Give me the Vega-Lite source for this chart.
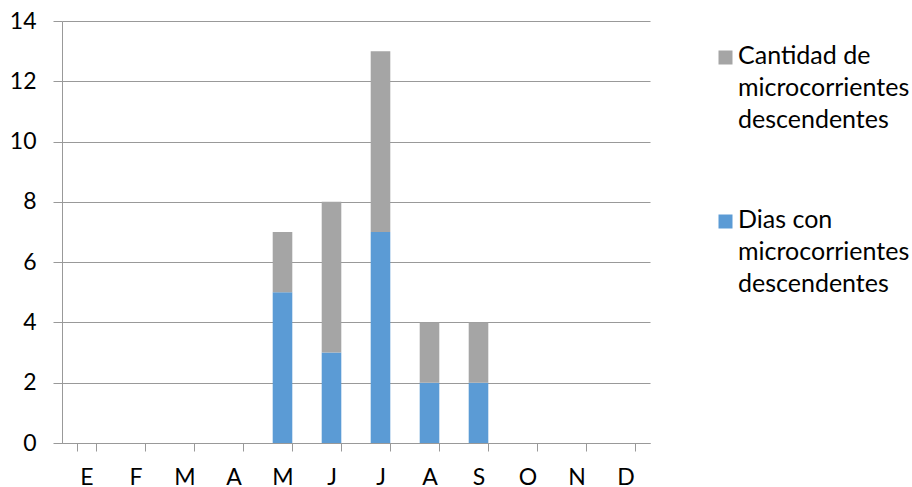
{
  "$schema": "https://vega.github.io/schema/vega-lite/v6.json",
  "width": 588,
  "height": 422,
  "autosize": "none",
  "padding": {"left": 62, "top": 21, "right": 262, "bottom": 44},
  "background": "white",
  "config": {"view": {"stroke": null}, "font": "Lato"},
  "data": {
    "values": [
      {"mes": "Ene", "serie": "Dias con microcorrientes descendentes", "valor": 0},
      {"mes": "Ene", "serie": "Cantidad de microcorrientes descendentes", "valor": 0},
      {"mes": "Feb", "serie": "Dias con microcorrientes descendentes", "valor": 0},
      {"mes": "Feb", "serie": "Cantidad de microcorrientes descendentes", "valor": 0},
      {"mes": "Mar", "serie": "Dias con microcorrientes descendentes", "valor": 0},
      {"mes": "Mar", "serie": "Cantidad de microcorrientes descendentes", "valor": 0},
      {"mes": "Abr", "serie": "Dias con microcorrientes descendentes", "valor": 0},
      {"mes": "Abr", "serie": "Cantidad de microcorrientes descendentes", "valor": 0},
      {"mes": "May", "serie": "Dias con microcorrientes descendentes", "valor": 5},
      {"mes": "May", "serie": "Cantidad de microcorrientes descendentes", "valor": 2},
      {"mes": "Jun", "serie": "Dias con microcorrientes descendentes", "valor": 3},
      {"mes": "Jun", "serie": "Cantidad de microcorrientes descendentes", "valor": 5},
      {"mes": "Jul", "serie": "Dias con microcorrientes descendentes", "valor": 7},
      {"mes": "Jul", "serie": "Cantidad de microcorrientes descendentes", "valor": 6},
      {"mes": "Ago", "serie": "Dias con microcorrientes descendentes", "valor": 2},
      {"mes": "Ago", "serie": "Cantidad de microcorrientes descendentes", "valor": 2},
      {"mes": "Sep", "serie": "Dias con microcorrientes descendentes", "valor": 2},
      {"mes": "Sep", "serie": "Cantidad de microcorrientes descendentes", "valor": 2},
      {"mes": "Oct", "serie": "Dias con microcorrientes descendentes", "valor": 0},
      {"mes": "Oct", "serie": "Cantidad de microcorrientes descendentes", "valor": 0},
      {"mes": "Nov", "serie": "Dias con microcorrientes descendentes", "valor": 0},
      {"mes": "Nov", "serie": "Cantidad de microcorrientes descendentes", "valor": 0},
      {"mes": "Dic", "serie": "Dias con microcorrientes descendentes", "valor": 0},
      {"mes": "Dic", "serie": "Cantidad de microcorrientes descendentes", "valor": 0}
    ]
  },
  "mark": {"type": "bar"},
  "encoding": {
    "x": {
      "field": "mes",
      "type": "ordinal",
      "sort": ["Ene", "Feb", "Mar", "Abr", "May", "Jun", "Jul", "Ago", "Sep", "Oct", "Nov", "Dic"],
      "scale": {"paddingInner": 0.6, "paddingOuter": 0.3},
      "axis": {
        "title": null,
        "labelExpr": "substring(datum.label, 0, 1)",
        "labelAngle": 0,
        "tickBand": "extent",
        "tickSize": 8,
        "tickColor": "#999999",
        "domainColor": "#999999",
        "labelFontSize": 23,
        "labelPadding": 15,
        "labelColor": "#000000",
        "grid": false
      }
    },
    "y": {
      "field": "valor",
      "type": "quantitative",
      "stack": "zero",
      "scale": {"domain": [0, 14], "nice": false},
      "axis": {
        "title": null,
        "values": [0, 2, 4, 6, 8, 10, 12, 14],
        "grid": true,
        "gridColor": "#999999",
        "tickSize": 9,
        "tickColor": "#999999",
        "domainColor": "#999999",
        "labelPadding": 17,
        "labelFontSize": 23,
        "labelColor": "#000000"
      }
    },
    "color": {
      "field": "serie",
      "type": "nominal",
      "scale": {
        "domain": ["Cantidad de microcorrientes descendentes", "Dias con microcorrientes descendentes"],
        "range": ["#A5A5A5", "#5B9BD5"]
      },
      "legend": {
        "title": null,
        "orient": "none",
        "legendX": 651,
        "legendY": 24,
        "symbolType": "square",
        "symbolSize": 196,
        "symbolStrokeWidth": 0,
        "labelFontSize": 25,
        "labelColor": "#000000",
        "labelBaseline": "alphabetic",
        "labelOffset": 0,
        "labelLimit": 300,
        "rowPadding": 74,
        "labelExpr": "datum.label == 'Cantidad de microcorrientes descendentes' ? ['Cantidad de', 'microcorrientes', 'descendentes'] : ['Dias con', 'microcorrientes', 'descendentes']",
        "encoding": {"labels": {"lineHeight": {"value": 32}, "dy": {"value": 6}}}
      }
    },
    "order": {"field": "serie", "sort": "descending"}
  }
}
